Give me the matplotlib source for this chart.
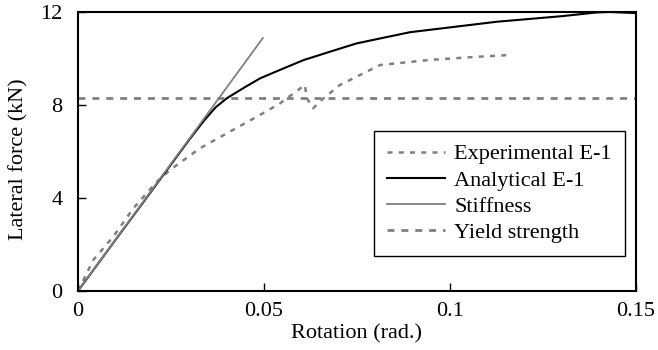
import matplotlib.pyplot as plt
import numpy as np

plt.rcParams['font.family'] = ['Liberation Serif', 'DejaVu Serif']

# Experimental E-1 (rotation, kN)
exp_x = [0, 0.0041, 0.0095, 0.0149, 0.0212, 0.0247, 0.0328, 0.040, 0.0489, 0.0543,
         0.0610, 0.0615, 0.0632, 0.066, 0.0704, 0.0758, 0.0812, 0.0946, 0.108, 0.116]
exp_y = [0, 1.33, 2.34, 3.56, 4.70, 5.20, 6.14, 6.78, 7.57, 8.07,
         8.86, 8.30, 7.86, 8.29, 8.86, 9.29, 9.72, 9.94, 10.08, 10.15]

# Analytical E-1
ana_x = [0, 0.010, 0.020, 0.030, 0.034, 0.037, 0.040, 0.045, 0.049, 0.0549, 0.0606,
         0.0677, 0.0749, 0.0892, 0.1125, 0.1300, 0.1394, 0.143, 0.149, 0.15]
ana_y = [0, 2.18, 4.35, 6.53, 7.35, 7.90, 8.29, 8.78, 9.15, 9.55, 9.93,
         10.29, 10.65, 11.13, 11.58, 11.82, 11.98, 12.0, 11.96, 11.95]

# Stiffness line and yield strength
stiff_x = [0, 0.0497]
stiff_y = [0, 10.88]
yield_force = 8.3

fig = plt.figure(figsize=(6.58, 3.5), dpi=100)
ax = fig.add_axes([0.1185, 0.1686, 0.8481, 0.7971])

ax.plot(exp_x, exp_y, color='#808080', lw=1.8, ls=(0, (2, 2.5)), label='Experimental E-1')
ax.plot(ana_x, ana_y, color='black', lw=1.5, label='Analytical E-1')
ax.plot(stiff_x, stiff_y, color='#808080', lw=1.3, label='Stiffness')
ax.axhline(yield_force, color='#808080', lw=2, ls=(0, (2.5, 2.5)), label='Yield strength')

ax.set_xlim(0, 0.15)
ax.set_ylim(0, 12)
ax.set_xticks([0, 0.05, 0.1, 0.15])
ax.set_xticklabels(['0', '0.05', '0.1', '0.15'])
ax.set_yticks([0, 4, 8, 12])
ax.tick_params(direction='in', labelsize=16, length=6, width=1)
ax.tick_params(axis='x', pad=8)
ax.tick_params(axis='y', pad=11)
for s in ax.spines.values():
    s.set_linewidth(1.5)

ax.set_xlabel('Rotation (rad.)', fontsize=16)
ax.set_ylabel('Lateral force (kN)', fontsize=16)
ax.xaxis.set_label_coords(0.5, -0.118)
ax.yaxis.set_label_coords(-0.106, 0.473)
ax.yaxis.label.set_va('center')

leg = ax.legend(loc='lower right', bbox_to_anchor=(0.98, 0.125), borderaxespad=0,
                fontsize=16, frameon=True, fancybox=False, edgecolor='black',
                framealpha=1, handlelength=2.6, handletextpad=0.4,
                labelspacing=0.25, borderpad=0.6)
leg.get_frame().set_linewidth(1)

fig.savefig('out.png', dpi=100)
